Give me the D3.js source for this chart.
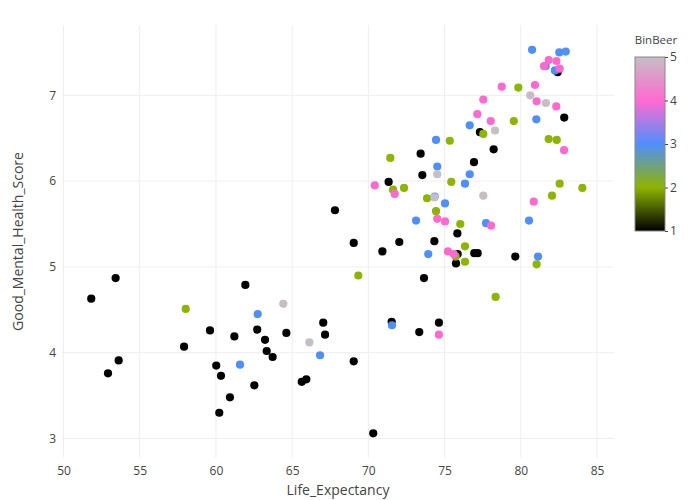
<!DOCTYPE html>
<html>
<head>
<meta charset="utf-8">
<script src="https://cdn.jsdelivr.net/npm/d3@7"></script>
<style>
  html, body { margin: 0; padding: 0; background: #fff; }
  text { font-family: "Open Sans", "Noto Sans", sans-serif; }
</style>
</head>
<body>
<svg id="chart" width="700" height="500"></svg>
<script>
// ---- Data (Life_Expectancy, Good_Mental_Health_Score, BinBeer) ----
const lifeExpectancy = [
  51.82,53.42,59.61,61.21,57.91,53.62,52.92,60.02,60.33,60.92,60.22,61.93,62.71,63.22,64.62,63.33,63.72,62.52,
  67.04,67.16,69.04,65.63,65.93,71.53,70.32,77.32,78.22,73.43,76.93,73.54,71.33,67.81,75.84,69.04,72.03,74.33,
  70.92,75.86,75.75,76.95,77.17,73.65,74.63,73.34,79.64,82.42,82.85,
  58.02,69.34,77.54,75.34,71.44,75.44,71.62,72.34,73.85,74.44,76.03,76.34,75.73,76.34,78.35,81.04,82.55,84.04,
  82.05,79.84,79.54,81.83,82.36,
  61.58,62.74,66.83,71.55,74.44,74.52,76.65,76.34,74.35,75.03,73.13,77.72,73.93,81.13,80.54,80.74,82.53,82.95,
  81.63,82.24,81.02,76.65,
  70.42,71.73,74.52,75.03,78.05,75.22,75.60,74.63,80.85,81.83,82.34,82.55,81.52,78.75,80.93,81.04,82.33,77.54,
  77.15,78.03,82.84,
  64.42,66.13,74.52,74.33,77.54,78.31,80.62,81.65
];
const mentalHealthScore = [
  4.63,4.87,4.26,4.19,4.07,3.91,3.76,3.85,3.73,3.48,3.30,4.79,4.27,4.15,4.23,4.02,3.95,3.62,
  4.35,4.21,3.90,3.66,3.69,4.36,3.06,6.57,6.37,6.32,6.22,6.07,5.99,5.66,5.39,5.28,5.29,5.30,
  5.18,5.15,5.04,5.16,5.16,4.87,4.35,4.24,5.12,7.27,6.74,
  4.51,4.90,6.55,6.47,6.27,5.99,5.90,5.92,5.80,5.65,5.50,5.24,5.12,5.06,4.65,5.03,5.97,5.92,
  5.83,7.09,6.70,6.49,6.48,
  3.86,4.45,3.97,4.32,6.48,6.17,6.08,5.97,5.82,5.74,5.54,5.51,5.15,5.12,5.54,7.53,7.50,7.51,
  7.34,7.29,6.72,6.65,
  5.95,5.85,5.56,5.53,5.48,5.18,5.15,4.21,5.76,7.41,7.40,7.31,7.34,7.10,7.12,6.93,6.87,6.95,
  6.78,6.70,6.36,
  4.57,4.12,6.08,5.81,5.83,6.59,7.00,6.91
];
const binBeer = [
  1,1,1,1,1,1,1,1,1,1,1,1,1,1,1,1,1,1,
  1,1,1,1,1,1,1,1,1,1,1,1,1,1,1,1,1,1,
  1,1,1,1,1,1,1,1,1,1,1,
  2,2,2,2,2,2,2,2,2,2,2,2,2,2,2,2,2,2,
  2,2,2,2,2,
  3,3,3,3,3,3,3,3,3,3,3,3,3,3,3,3,3,3,
  3,3,3,3,
  4,4,4,4,4,4,4,4,4,4,4,4,4,4,4,4,4,4,
  4,4,4,
  5,5,5,5,5,5,5,5
];
const xTicks = [50, 55, 60, 65, 70, 75, 80, 85];
const yTicks = [3, 4, 5, 6, 7];
const colorTicks = [1, 2, 3, 4, 5];
const colorStops = ["#000000", "#8db400", "#4f8ffc", "#ff6ad0", "#c6bec4"];

const points = lifeExpectancy.map((v, i) => ({ x: v, y: mentalHealthScore[i], c: binBeer[i] }));

// ---- Layout ----
const svg = d3.select("#chart");
const plot = { left: 62, right: 614, top: 25, bottom: 458 };

// x: 50 -> 63.5px, 85 -> 597px
const pxPerX = (597 - 63.5) / 35;
const x = d3.scaleLinear()
  .domain([50 - (63.5 - plot.left) / pxPerX, 85 + (plot.right - 597) / pxPerX])
  .range([plot.left, plot.right]);
// y: 3 -> 438.5px, 7 -> 95.3px
const pxPerY = (438.5 - 95.3) / 4;
const y = d3.scaleLinear()
  .domain([3 - (plot.bottom - 438.5) / pxPerY, 7 + (95.3 - plot.top) / pxPerY])
  .range([plot.bottom, plot.top]);

const color = d3.scaleLinear().domain(colorTicks).range(colorStops).interpolate(d3.interpolateRgb);

// Gridlines
const grid = svg.append("g");
grid.selectAll("line.vx").data(xTicks).join("line")
  .attr("x1", d => x(d)).attr("x2", d => x(d))
  .attr("y1", plot.top).attr("y2", plot.bottom)
  .attr("stroke", "#eeeeee").attr("stroke-width", 1);
grid.selectAll("line.hy").data(yTicks).join("line")
  .attr("y1", d => y(d)).attr("y2", d => y(d))
  .attr("x1", plot.left).attr("x2", plot.right)
  .attr("stroke", "#eeeeee").attr("stroke-width", 1);

// Axes (tick labels only, Plotly style)
const xAxis = d3.axisBottom(x).tickValues(xTicks).tickSize(0).tickPadding(8).tickFormat(d3.format("d"));
const gx = svg.append("g").attr("transform", `translate(0,${plot.bottom})`).call(xAxis);
gx.select(".domain").remove();
gx.selectAll("text").attr("fill", "#444").style("font-size", "12px");

const yAxis = d3.axisLeft(y).tickValues(yTicks).tickSize(0).tickPadding(6).tickFormat(d3.format("d"));
const gy = svg.append("g").attr("transform", `translate(${plot.left},0)`).call(yAxis);
gy.select(".domain").remove();
gy.selectAll("text").attr("fill", "#444").style("font-size", "12px");

// Axis titles
svg.append("text").attr("x", (plot.left + plot.right) / 2).attr("y", 495)
  .attr("text-anchor", "middle").attr("fill", "#444").style("font-size", "14px")
  .text("Life_Expectancy");
svg.append("text")
  .attr("transform", `translate(23,${(plot.top + plot.bottom) / 2}) rotate(-90)`)
  .attr("text-anchor", "middle").attr("fill", "#444").style("font-size", "14px")
  .text("Good_Mental_Health_Score");

// Points
svg.append("g").selectAll("circle").data(points).join("circle")
  .attr("cx", d => x(d.x)).attr("cy", d => y(d.y)).attr("r", 4.1)
  .attr("fill", d => color(d.c));

// Colorbar
const cb = { x: 635, w: 30, top: 57, bottom: 231 };
const cy = d3.scaleLinear().domain([1, 5]).range([cb.bottom, cb.top]);
const defs = svg.append("defs");
const grad = defs.append("linearGradient").attr("id", "cbgrad")
  .attr("x1", 0).attr("y1", 1).attr("x2", 0).attr("y2", 0);
grad.selectAll("stop").data(colorTicks).join("stop")
  .attr("offset", d => (d - 1) / 4).attr("stop-color", d => color(d));
svg.append("rect").attr("x", cb.x).attr("y", cb.top).attr("width", cb.w).attr("height", cb.bottom - cb.top)
  .attr("fill", "url(#cbgrad)").attr("stroke", "#888").attr("stroke-width", 1);
const cAxis = d3.axisRight(cy).tickValues(colorTicks).tickSize(3).tickPadding(2).tickFormat(d3.format("d"));
const gc = svg.append("g").attr("transform", `translate(${cb.x + cb.w},0)`).call(cAxis);
gc.select(".domain").remove();
gc.selectAll("line").attr("stroke", "#444");
gc.selectAll("text").attr("fill", "#444").style("font-size", "12px");
svg.append("text").attr("x", cb.x + cb.w / 2 + 6).attr("y", 44)
  .attr("text-anchor", "middle").attr("fill", "#444").style("font-size", "11.5px")
  .text("BinBeer");
</script>
</body>
</html>
